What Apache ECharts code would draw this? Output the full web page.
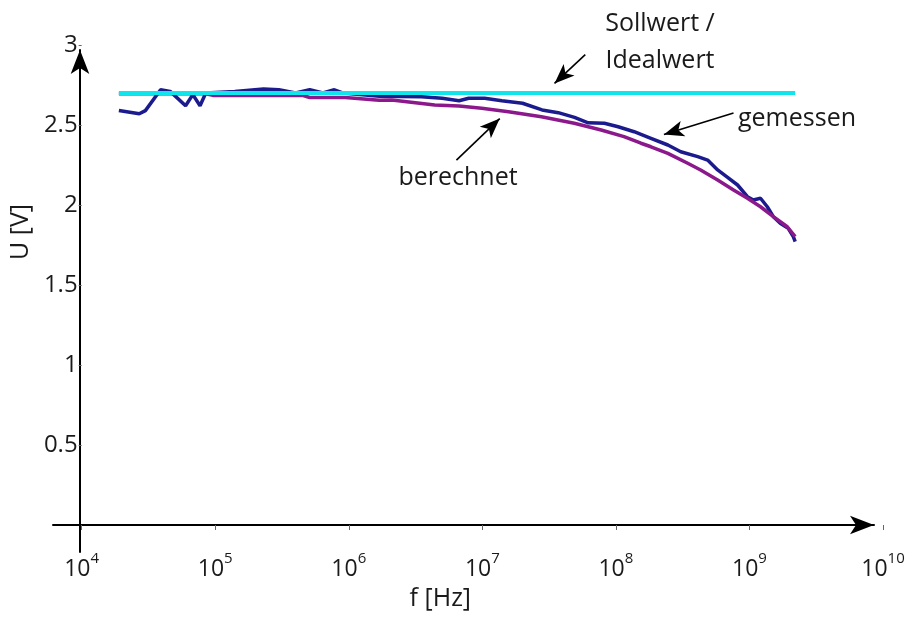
<!DOCTYPE html>
<html>
<head>
<meta charset="utf-8">
<script src="https://cdn.jsdelivr.net/npm/echarts@6/dist/echarts.min.js"></script>
<style>
  html, body { margin: 0; padding: 0; background: #fff; }
  #chart { width: 924px; height: 619px; }
</style>
</head>
<body>
<div id="chart"></div>
<script>
// Frequenz [Hz] / Spannung [V]
const sollFreq = [1.9e4, 2.2e9];
const sollVolt = [2.70, 2.70];

const gemessenFreq = [1.9e4, 2.7e4, 3.0e4, 3.9e4, 4.6e4, 6.0e4, 6.8e4, 7.7e4, 8.5e4, 1.4e5,
  2.3e5, 3.0e5, 4.0e5, 5.1e5, 6.4e5, 7.8e5, 9.0e5, 1.7e6, 3.5e6, 5.0e6,
  6.7e6, 7.9e6, 1.04e7, 1.4e7, 2.0e7, 2.8e7, 3.7e7, 4.9e7, 6.2e7, 8.2e7,
  1.04e8, 1.37e8, 1.83e8, 2.45e8, 3.06e8, 4.1e8, 4.86e8, 5.78e8, 6.86e8, 8.15e8,
  9.66e8, 1.07e9, 1.21e9, 1.36e9, 1.51e9, 1.7e9, 1.95e9, 2.13e9, 2.2e9];
const gemessenVolt = [2.59, 2.57, 2.59, 2.72, 2.71, 2.62, 2.69, 2.62, 2.70, 2.71,
  2.725, 2.72, 2.70, 2.72, 2.70, 2.72, 2.70, 2.68, 2.677, 2.667,
  2.652, 2.667, 2.667, 2.652, 2.636, 2.594, 2.577, 2.548, 2.514, 2.511,
  2.489, 2.458, 2.417, 2.375, 2.333, 2.302, 2.281, 2.219, 2.173, 2.125,
  2.052, 2.031, 2.042, 1.989, 1.927, 1.886, 1.854, 1.802, 1.771];

const berechnetFreq = [1.9e4, 8.5e4, 9.6e4, 4.5e5, 5.1e5, 9.4e5, 1.69e6, 2.1e6, 4.4e6, 6.7e6,
  9.9e6, 1.57e7, 2.77e7, 4.88e7, 7.76e7, 1.15e8, 1.54e8, 1.83e8, 2.45e8, 3.45e8,
  4.31e8, 5.78e8, 7.6e8, 9.66e8, 1.21e9, 1.51e9, 1.92e9, 2.2e9];
const berechnetVolt = [2.695, 2.695, 2.685, 2.685, 2.672, 2.672, 2.655, 2.656, 2.625, 2.619,
  2.604, 2.583, 2.552, 2.511, 2.469, 2.427, 2.386, 2.364, 2.323, 2.261,
  2.219, 2.156, 2.094, 2.042, 1.989, 1.927, 1.864, 1.802];

const yTicks = [0, 0.5, 1, 1.5, 2, 2.5, 3];

// Pfeile der Beschriftungen (Start -> Spitze), in Datenkoordinaten
const arrowSoll = [[5.9e7, 2.94], [3.47e7, 2.76]];
const arrowBerechnet = [[6.4e6, 2.28], [1.35e7, 2.54]];
const arrowGemessen = [[7.6e8, 2.575], [2.29e8, 2.44]];

const FONT = '"Open Sans", "Noto Sans", sans-serif';
const TXT = '#1a1a1a';

const zip = (a, b) => a.map((v, i) => [v, b[i]]);

function arrowLine(pair) {
  return {
    silent: true,
    symbol: ['none', 'arrow'],
    symbolSize: [12, 20],
    label: { show: false },
    lineStyle: { color: '#000', width: 1.6, type: 'solid' },
    data: [[{ coord: pair[0] }, { coord: pair[1] }]],
  };
}

const chart = echarts.init(document.getElementById('chart'));

const option = {
  animation: false,
  backgroundColor: '#fff',
  grid: [
    { left: 78, right: 41, top: 45, bottom: 94 },   // Hauptdiagramm
    { left: 80, right: 41, top: 50, bottom: 67 },   // y-Achsenlinie mit Pfeil
    { left: 53, right: 50, top: 45, bottom: 94 },   // x-Achsenlinie mit Pfeil
  ],
  xAxis: [
    {
      gridIndex: 0,
      type: 'log',
      logBase: 10,
      min: 1e4,
      max: 1e10,
      axisLine: { show: false },
      axisTick: { show: true, length: 5, lineStyle: { color: '#666', width: 1 } },
      splitLine: { show: false },
      axisLabel: {
        margin: 26,
        formatter: function (v) {
          const n = String(Math.round(Math.log10(v)));
          return '{b|10}{s|' + n + '}';
        },
        rich: {
          b: { fontFamily: FONT, fontSize: 23, color: TXT, lineHeight: 30, verticalAlign: 'bottom' },
          s: { fontFamily: FONT, fontSize: 15, color: TXT, lineHeight: 30, verticalAlign: 'top' },
        },
      },
      name: 'f [Hz]',
      nameLocation: 'middle',
      nameGap: 60,
      nameTextStyle: { fontFamily: FONT, fontSize: 25, color: TXT, padding: [0, 84, 0, 0] },
    },
    { gridIndex: 1, type: 'value', min: 0, max: 1, show: false },
    {
      gridIndex: 2, type: 'value', min: 0, max: 1,
      axisLine: { show: true, onZero: false, symbol: ['none', 'arrow'], symbolSize: [14, 24], lineStyle: { color: '#000', width: 2 } },
      axisTick: { show: false }, axisLabel: { show: false }, splitLine: { show: false },
    },
  ],
  yAxis: [
    {
      gridIndex: 0,
      type: 'value',
      min: yTicks[0],
      max: yTicks[yTicks.length - 1],
      interval: 0.5,
      axisLine: { show: false },
      axisTick: { show: true, length: 3, lineStyle: { color: '#666', width: 1 } },
      splitLine: { show: false },
      axisLabel: {
        showMinLabel: false,
        margin: 4,
        fontFamily: FONT,
        fontSize: 24,
        color: TXT,
        formatter: (v) => String(v),
      },
      name: 'U [V]',
      nameLocation: 'middle',
      nameGap: 31,
      nameTextStyle: { fontFamily: FONT, fontSize: 25, color: TXT, padding: [0, 0, 0, 106] },
    },
    {
      gridIndex: 1, type: 'value', min: 0, max: 1,
      axisLine: { show: true, onZero: false, symbol: ['none', 'arrow'], symbolSize: [14, 24], lineStyle: { color: '#000', width: 2 } },
      axisTick: { show: false }, axisLabel: { show: false }, splitLine: { show: false },
    },
    { gridIndex: 2, type: 'value', min: 0, max: 1, show: false },
  ],
  series: [
    {
      name: 'gemessen',
      type: 'line',
      xAxisIndex: 0, yAxisIndex: 0,
      data: zip(gemessenFreq, gemessenVolt),
      showSymbol: false,
      lineStyle: { color: '#1b1b8e', width: 3.5 },
      markLine: arrowLine(arrowGemessen),
      z: 2,
    },
    {
      name: 'berechnet',
      type: 'line',
      xAxisIndex: 0, yAxisIndex: 0,
      data: zip(berechnetFreq, berechnetVolt),
      showSymbol: false,
      lineStyle: { color: '#8b198b', width: 3.5 },
      markLine: arrowLine(arrowBerechnet),
      z: 3,
    },
    {
      name: 'Sollwert / Idealwert',
      type: 'line',
      xAxisIndex: 0, yAxisIndex: 0,
      data: zip(sollFreq, sollVolt),
      showSymbol: false,
      lineStyle: { color: '#10e4ec', width: 4 },
      markLine: arrowLine(arrowSoll),
      z: 4,
    },
  ],
  graphic: [
    { type: 'text', x: 660, y: 24, style: { text: 'Sollwert /', font: '25px ' + FONT, fill: TXT, align: 'center', verticalAlign: 'middle' } },
    { type: 'text', x: 660, y: 61, style: { text: 'Idealwert', font: '25px ' + FONT, fill: TXT, align: 'center', verticalAlign: 'middle' } },
    { type: 'text', x: 458, y: 178, style: { text: 'berechnet', font: '25px ' + FONT, fill: TXT, align: 'center', verticalAlign: 'middle' } },
    { type: 'text', x: 797, y: 119, style: { text: 'gemessen', font: '25px ' + FONT, fill: TXT, align: 'center', verticalAlign: 'middle' } },
  ],
};

chart.setOption(option);
</script>
</body>
</html>
